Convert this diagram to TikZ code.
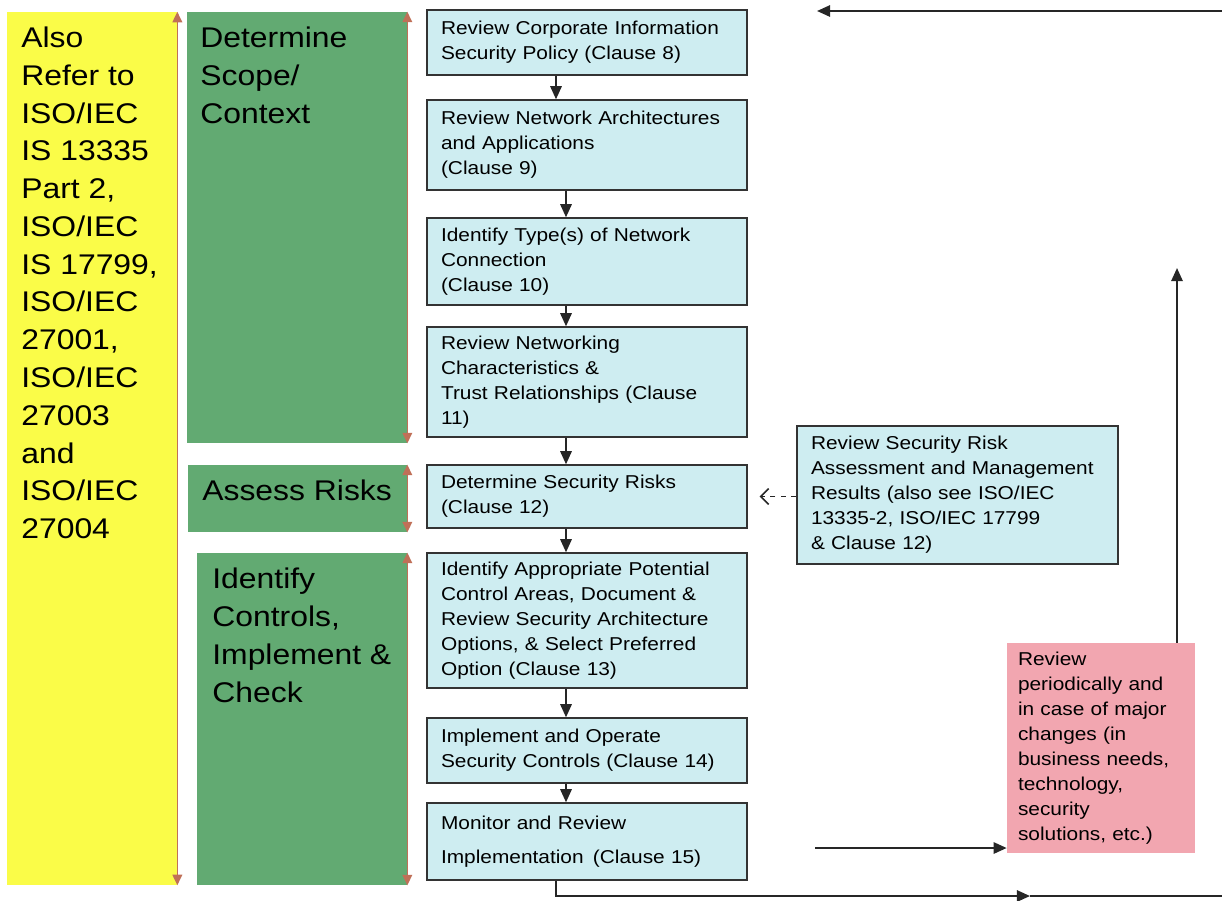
\documentclass[tikz,border=0pt]{standalone}
\usepackage{fontspec}
\setmainfont[FakeStretch=1.12]{Liberation Sans}
\usetikzlibrary{arrows.meta}
\definecolor{refyel}{RGB}{250,252,72}
\definecolor{phgrn}{RGB}{98,170,114}
\definecolor{stepblu}{RGB}{206,237,241}
\definecolor{revpnk}{RGB}{242,166,176}
\definecolor{edgebrn}{RGB}{192,112,88}
\tikzset{
  phasebox/.style={rectangle,fill=phgrn,inner sep=0pt},
  bigtxt/.style={font=\fontsize{16.2}{21.5}\selectfont,align=left,inner sep=0pt,anchor=north west},
  stepbox/.style={rectangle,draw=black!80,line width=0.8pt,fill=stepblu,minimum width=6.4cm,
    text width=5.84cm,inner xsep=0.28cm,align=left,font=\fontsize{10.6}{14.2}\selectfont},
  spanarr/.style={draw=edgebrn,line width=0.9pt,{Triangle[length=6pt,width=5.5pt]}-{Triangle[length=6pt,width=5.5pt]}},
  flow/.style={draw=black!85,line width=1.1pt,-{Triangle[length=7.5pt,width=6.5pt]}},
  plain/.style={draw=black!85,line width=1.1pt},
  feed/.style={draw=black!85,line width=0.9pt,dashed,-{Straight Barb[length=4.5pt,width=9pt]},shorten >=0.24cm}
}

\begin{document}
\begin{tikzpicture}[x=0.02cm,y=-0.02cm]
\useasboundingbox (0,0) rectangle (1222,900);
% phase columns
\node[rectangle,fill=refyel,minimum width=3.4cm,minimum height=17.46cm] (refs) at (92,448.5) {};
\node[phasebox,minimum width=4.4cm,minimum height=8.62cm] (scope) at (297,227.5) {};
\node[phasebox,minimum width=4.38cm,minimum height=1.34cm] (risk) at (297.5,498.5) {};
\node[phasebox,minimum width=4.2cm,minimum height=6.64cm] (ctrl) at (302,719) {};
\node[bigtxt] (refsT) at (21,26.5) {Also\\Refer to\\ISO/IEC\\IS 13335\\Part 2,\\ISO/IEC\\IS 17799,\\ISO/IEC\\27001,\\ISO/IEC\\27003\\and\\ISO/IEC\\27004};
\node[bigtxt] (scopeT) at (200,26.5) {Determine\\Scope/\\Context};
\node[bigtxt,anchor=base west] (riskT) at (202,500) {Assess Risks};
\node[bigtxt] (ctrlT) at (212,568) {Identify\\Controls,\\Implement \&\\Check};
\draw[spanarr] (refs.north east) -- (refs.south east);
\draw[spanarr] (scope.north east) -- (scope.south east);
\draw[spanarr] (risk.north east) -- (risk.south east);
\draw[spanarr] (ctrl.north east) -- (ctrl.south east);
% process steps
\node[stepbox,minimum height=1.3cm] (b1) at (587,42.5) {Review Corporate Information\\Security Policy (Clause 8)};
\node[stepbox,minimum height=1.8cm] (b2) at (587,145) {Review Network Architectures\\and Applications\\(Clause 9)};
\node[stepbox,minimum height=1.74cm] (b3) at (587,261.5) {Identify Type(s) of Network\\Connection\\(Clause 10)};
\node[stepbox,minimum height=2.2cm] (b4) at (587,382) {Review Networking\\Characteristics \&\\Trust Relationships (Clause\\11)};
\node[stepbox,minimum height=1.26cm] (b5) at (587,496.5) {Determine Security Risks\\(Clause 12)};
\node[stepbox,minimum height=2.7cm] (b6) at (587,620.5) {Identify Appropriate Potential\\Control Areas, Document \&\\Review Security Architecture\\Options, \& Select Preferred\\Option (Clause 13)};
\node[stepbox,minimum height=1.3cm] (b7) at (587,750.5) {Implement and Operate\\Security Controls (Clause 14)};
\node[stepbox,minimum height=1.54cm] (b8) at (587,841.5) {Monitor and Review\\[5pt]Implementation\ \,(Clause 15)};
\node[stepbox,minimum width=6.42cm,text width=5.86cm,minimum height=2.76cm] (res) at (957.5,495) {Review Security Risk\\Assessment and Management\\Results (also see ISO/IEC\\13335-2, ISO/IEC 17799\\\& Clause 12)};
\node[rectangle,fill=revpnk,minimum width=3.76cm,minimum height=4.2cm,text width=3.32cm,inner xsep=0.22cm,
  align=left,font=\fontsize{10.6}{14.2}\selectfont] (rev) at (1101,748) {Review\\periodically and\\in case of major\\changes (in\\business needs,\\technology,\\security\\solutions, etc.)};
\coordinate (ax1) at (556,0);
\coordinate (ax2) at (566,0);
\coordinate (loopM) at (1030,896);
\coordinate (loopR) at (1222,896);
\coordinate (revIn) at (815,848);
\coordinate (upX) at (1177,0);
\coordinate (upEnd) at (1177,268);
\coordinate (topR) at (1222,11);
\coordinate (topL) at (817,11);
\draw[flow] (b1.south -| ax1) -- (b2.north -| ax1);
\foreach \a/\b in {b2/b3,b3/b4,b4/b5,b5/b6,b6/b7,b7/b8}
  \draw[flow] (\a.south -| ax2) -- (\b.north -| ax2);
\draw[feed] (res.west |- b5) -- (b5.east);
% review loop
\draw[flow] (b8.south -| ax1) |- (loopM);
\draw[plain] (loopM) -- (loopR);
\draw[flow] (revIn) -- (revIn -| rev.west);
\draw[flow] (rev.north -| upX) -- (upEnd);
\draw[flow] (topR) -- (topL);
\end{tikzpicture}
\end{document}
